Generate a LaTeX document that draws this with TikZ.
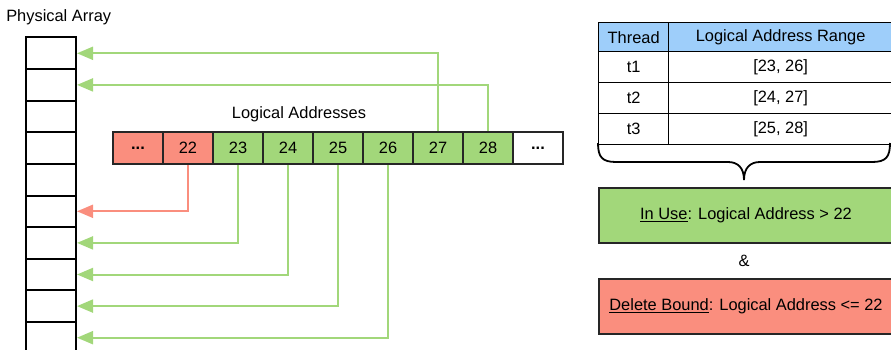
\documentclass[tikz,border=0pt]{standalone}
\usepackage{fontspec}
\setmainfont{Liberation Sans}
\usetikzlibrary{arrows.meta}
\definecolor{usegreen}{HTML}{A2D77A}
\definecolor{delred}{HTML}{FA8E7E}
\definecolor{headblue}{HTML}{9ECEFA}
\newcommand\moredots{\textbf{...}}
\tikzset{
  lbl/.style={font=\fontsize{16.4}{19}\selectfont},
  txt/.style={lbl, inner sep=0pt},
  physcell/.style={draw=black, line width=2pt, minimum width=50pt, minimum height=31.6pt, inner sep=0pt, anchor=north west},
  logcell/.style={lbl, draw=black!85, line width=2pt, minimum width=50pt, minimum height=32pt, inner sep=0pt, anchor=north west},
  tabcell/.style={lbl, draw=black, line width=1.3pt, inner sep=0pt, anchor=north west},
  condbox/.style={lbl, draw=black!85, line width=2pt, minimum width=294pt, minimum height=55pt, inner sep=0pt, anchor=north west},
  garrow/.style={draw=usegreen, line width=2pt, -{Triangle[length=16pt,width=13pt]}},
  rarrow/.style={draw=delred, line width=2pt, -{Triangle[length=16pt,width=13pt]}},
}
\begin{document}
\begin{tikzpicture}[x=1pt, y=-1pt]
\useasboundingbox (0,0) rectangle (891,350);
\clip (0,0) rectangle (891,350);

% physical array
\node[txt] (phys) at (58.7,17) {Physical Array};
\foreach \i in {1,2,3,4,5,6,7,8,9,10} {
  \node[physcell] (p\i) at (25,{36.5+(\i-1)*31.6}) {};
}

% logical address strip
\node[txt] (logl) at (299,114) {Logical Addresses};
\foreach \i/\lab/\col in {0/\moredots/delred,1/22/delred,2/23/usegreen,3/24/usegreen,4/25/usegreen,5/26/usegreen,6/27/usegreen,7/28/usegreen,8/\moredots/white} {
  \node[logcell, fill=\col] (c\i) at ({112+\i*50},131) {\lab};
}

% mappings into the physical array
\draw[garrow] (c6.north) |- (p1.east);
\draw[garrow] (c7.north) |- (p2.east);
\draw[rarrow] (c1.south) |- (p6.east);
\draw[garrow] (c2.south) |- (p7.east);
\draw[garrow] (c3.south) |- (p8.east);
\draw[garrow] (c4.south) |- (p9.east);
\draw[garrow] (c5.south) |- (p10.east);

% thread table
\node[tabcell, fill=headblue, minimum width=70pt, minimum height=29pt] (th) at (598,22) {Thread};
\node[tabcell, fill=headblue, minimum width=224pt, minimum height=29pt] (rh) at (668,22) {Logical Address Range};
\foreach \i/\t/\r in {1/t1/{[23, 26]},2/t2/{[24, 27]},3/t3/{[25, 28]}} {
  \node[tabcell, minimum width=70pt, minimum height=31pt] (t\i) at (598,{51+(\i-1)*31}) {\t};
  \node[tabcell, minimum width=224pt, minimum height=31pt] (r\i) at (668,{51+(\i-1)*31}) {\r};
}

% brace under the table
\draw[black, line width=1.8pt]
  (598,143) .. controls (598,157) and (602,162) .. (616,162) -- (728,162)
  .. controls (738,162) and (744,168) .. (744,180)
  .. controls (744,168) and (750,162) .. (760,162) -- (872,162)
  .. controls (886,162) and (890,157) .. (890,143);

% conditions
\node[condbox, fill=usegreen] (inuse) at (598,187) {\underline{In Use}: Logical Address > 22};
\node[txt] (amp) at (744,261) {\&};
\node[condbox, fill=delred] (delb) at (598,278) {\underline{Delete Bound}: Logical Address <= 22};
\end{tikzpicture}
\end{document}
